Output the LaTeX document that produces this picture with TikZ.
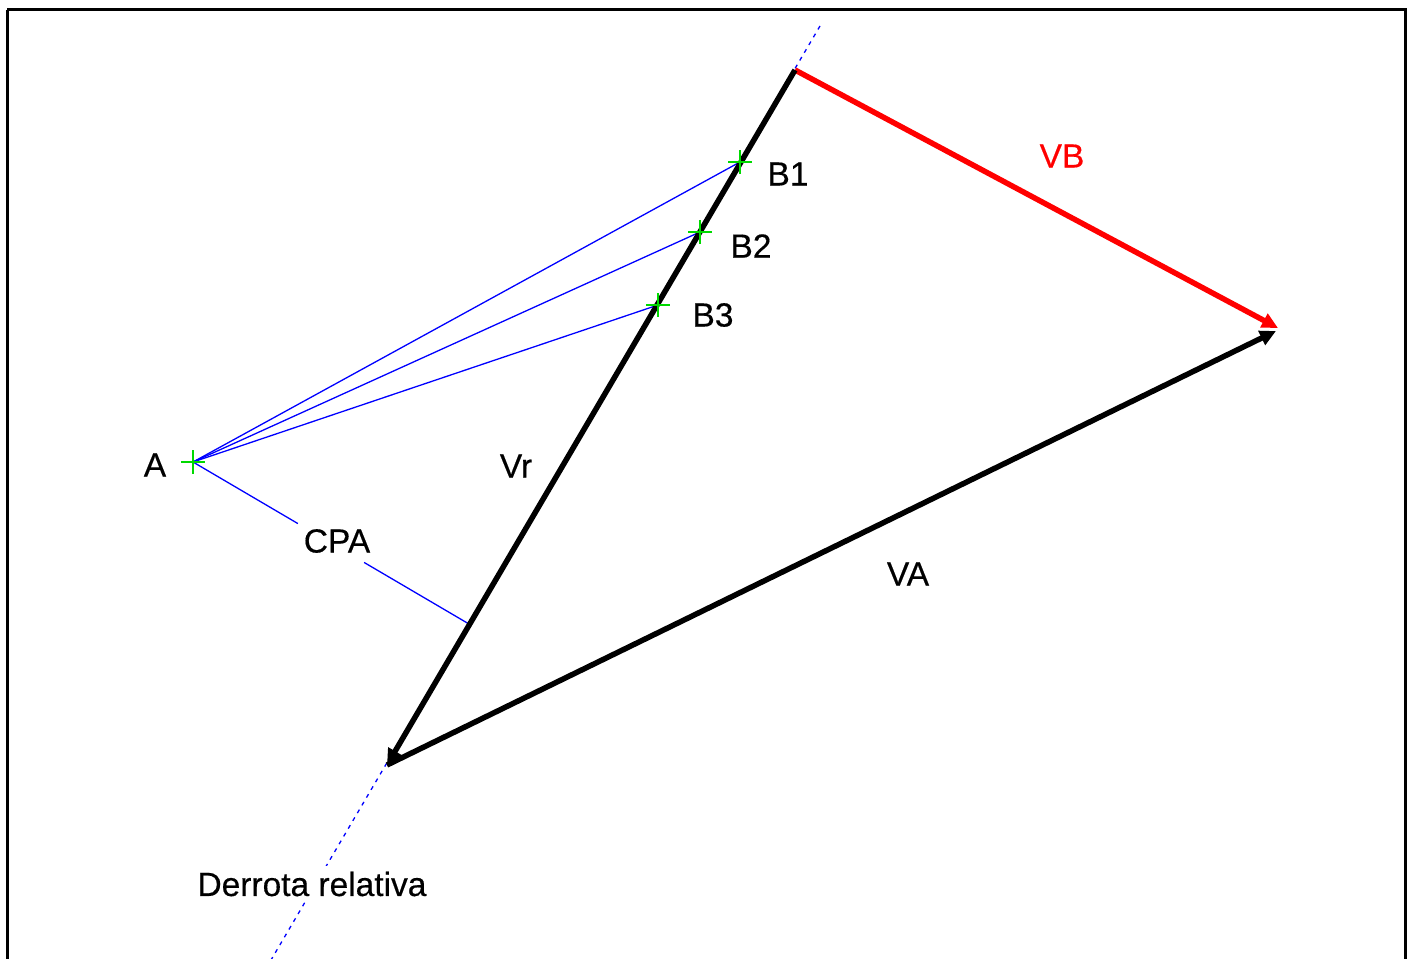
\documentclass[tikz,border=0pt]{standalone}
\usepackage{fontspec}
\setmainfont[FakeBold=0.4]{Liberation Sans}
\usetikzlibrary{arrows.meta,calc}
\begin{document}
\begin{tikzpicture}[x=1pt,y=-1pt,
  vec/.style={line width=5.5pt,-{Triangle[length=16pt,width=15pt]}},
  thin blue/.style={blue,line width=1.3pt},
  rel/.style={blue,line width=1.3pt,dash pattern=on 4pt off 5pt},
  cross/.style={green!85!black,line width=1.5pt},
  lbl/.style={font=\fontsize{33.5}{38}\selectfont,inner sep=0pt}]
\useasboundingbox (0,0) rectangle (1412,958);
\fill[white] (0,0) rectangle (1412,958);
\draw[black,line width=3pt] (7,10) -- (1405,10) -- (1405,975) (7,10) -- (7,975);
% coordinates
\coordinate (T) at (795,70);
\coordinate (O) at (387,765);
\coordinate (H) at (1278,328);
\coordinate (HA) at (1276,331);
\coordinate (DT) at (820,26);
\coordinate (DB) at (271,960);
\coordinate (A) at (193,462);
\coordinate (B1) at (740,162);
\coordinate (B2) at (700,232);
\coordinate (B3) at (658,305);
\coordinate (F) at (469,624);
% relative track
\draw[rel] (DT) -- (DB);
% blue sight lines
\draw[thin blue] (A) -- (B1);
\draw[thin blue] (A) -- (B2);
\draw[thin blue] (A) -- (B3);
\node[lbl] (cpa) at (337,541) {CPA};
\draw[thin blue] (A) -- ($(A)!0.38!(F)$);
\draw[thin blue] ($(A)!0.62!(F)$) -- (F);
% vectors
\draw[vec,red] (T) -- (H);
\draw[vec,black] (O) -- (HA);
\draw[vec,black] (T) -- (O);
% crosses
\foreach \p in {A,B1,B2,B3}{
  \draw[cross] ($(\p)+(-12,0)$) -- ($(\p)+(12,0)$);
  \draw[cross] ($(\p)+(0,-12)$) -- ($(\p)+(0,12)$);
}
% labels
\node[lbl] (la) at (155,465) {A};
\node[lbl] (lb1) at (788,174) {B1};
\node[lbl] (lb2) at (751,246) {B2};
\node[lbl] (lb3) at (713,315) {B3};
\node[lbl] (lvr) at (516,466) {Vr};
\node[lbl,text=red] (lvb) at (1062,156) {VB};
\node[lbl] (lva) at (908,574) {VA};
\node[lbl,fill=white,inner sep=6pt] (ld) at (312,884) {Derrota relativa};
\end{tikzpicture}
\end{document}
